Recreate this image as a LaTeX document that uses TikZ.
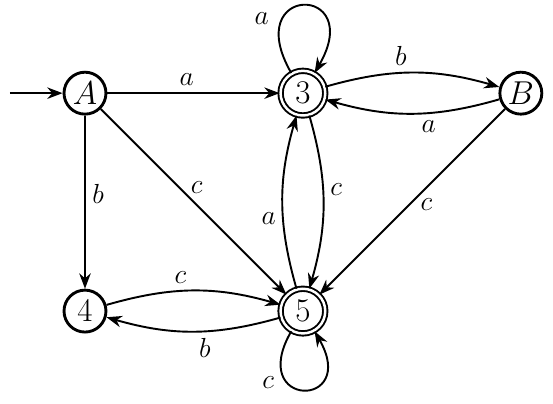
\documentclass[tikz,border=0pt]{standalone}
\usetikzlibrary{arrows.meta,positioning}
\begin{document}
\begin{tikzpicture}[
    >={Stealth[length=8pt,width=6pt]},
    state/.style={circle,draw,line width=1.5pt,minimum size=0.77cm,
                  inner sep=0pt,font=\LARGE},
    accepting/.style={state,double,double distance=1.3pt,line width=1pt,
                      minimum size=0.82cm},
    every edge/.style={draw,line width=1pt,->},
    lbl/.style={font=\Large}
  ]
  \useasboundingbox (-1.56,1.71) rectangle (8.59,-5.69);
  % states
  \node[state] (A) at (0,0) {$A$};
  \node[accepting] (3) at (4,0) {$3$};
  \node[state] (B) at (8,0) {$B$};
  \node[state] (4) at (0,-4) {$4$};
  \node[accepting] (5) at (4,-4) {$5$};
  % initial arrow
  \coordinate (start) at (-1.38,0);
  \draw[line width=1pt,->] (start) -- (A);
  % transitions
  \path (A) edge node[lbl,pos=0.46,above] {$a$} (3)
        (A) edge node[lbl,pos=0.45,right] {$b$} (4)
        (A) edge node[lbl,pos=0.47,above right,inner sep=1pt] {$c$} (5)
        (3) edge[bend left=16] node[lbl,pos=0.43,above] {$b$} (B)
        (B) edge[bend left=16] node[lbl,pos=0.4,below] {$a$} (3)
        (B) edge node[lbl,pos=0.47,below right,inner sep=1pt] {$c$} (5)
        (3) edge[bend left=16] node[lbl,pos=0.42,right] {$c$} (5)
        (5) edge[bend left=16] node[lbl,pos=0.4,left] {$a$} (3)
        (4) edge[bend left=16] node[lbl,pos=0.42,above] {$c$} (5)
        (5) edge[bend left=16] node[lbl,pos=0.43,below] {$b$} (4);
  % self loops
  \path (3) edge[out=120,in=60,distance=1.9cm] node[lbl,pos=0.28,left=3pt] {$a$} (3)
        (5) edge[out=240,in=300,distance=1.65cm] node[lbl,pos=0.33,left=3pt] {$c$} (5);
\end{tikzpicture}
\end{document}
